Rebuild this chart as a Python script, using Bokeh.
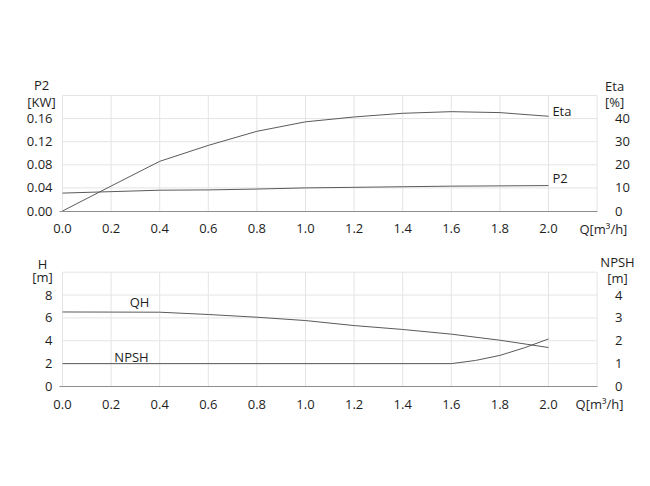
from bokeh.plotting import figure
from bokeh.models import Range1d, LinearAxis, FixedTicker, Label, PrintfTickFormatter
from bokeh.layouts import column
from bokeh.embed import file_html
from bokeh.resources import INLINE

# ---- data ----
q = [0.0, 0.2, 0.4, 0.6, 0.8, 1.0, 1.2, 1.4, 1.6, 1.8, 2.0]
eta = [0.0, 10.8, 21.5, 28.4, 34.5, 38.6, 40.7, 42.3, 43.0, 42.6, 41.0]
p2 = [0.031, 0.0335, 0.036, 0.0365, 0.038, 0.040, 0.041, 0.042, 0.043, 0.0435, 0.044]
qh = [6.52, 6.51, 6.50, 6.30, 6.06, 5.77, 5.33, 4.99, 4.58, 4.05, 3.41]
q_npsh = [0.0, 1.6, 1.7, 1.8, 1.9, 2.0]
npsh = [1.0, 1.0, 1.14, 1.36, 1.69, 2.08]

x_ticks = [0.0, 0.2, 0.4, 0.6, 0.8, 1.0, 1.2, 1.4, 1.6, 1.8, 2.0]
x_grid = [0.0, 0.2, 0.4, 0.6, 0.8, 1.0, 1.2, 1.4, 1.6, 1.8, 2.0, 2.2]
p2_ticks = [0.0, 0.04, 0.08, 0.12, 0.16]
p2_grid = [0.04, 0.08, 0.12, 0.16, 0.2]
eta_ticks = [0, 10, 20, 30, 40]
h_ticks = [0, 2, 4, 6, 8]
h_grid = [2, 4, 6, 8, 10]
npsh_ticks = [0, 1, 2, 3, 4]

Q_MAX, P2_MAX, ETA_MAX, H_MAX, NPSH_MAX = 2.2, 0.2, 50.0, 10.0, 5.0

# ---- page geometry (pixels) ----
W = 645
PAGE_X0, PAGE_X1 = 1, 1 + W
TOP_Y0, TOP_Y1 = 1, 248
BOT_Y0, BOT_Y1 = 248, 478
QX0, QPPU = 63.0, 243.0       # page x of Q=0, pixels per m3/h
P2_Y0, P2_PPU = 211.5, 577.5  # page y of P2=0, pixels per kW
H_Y0, H_PPU = 387.0, 11.43    # page y of H=0, pixels per m

FONT = "Open Sans"
FS = "13px"
TXT = "#1e1e1e"
CURVE = "#5a5a5a"
GRID_C = "#e4e4e4"
AXIS_C = "#8e8e8e"


def x_range():
    return Range1d((PAGE_X0 - QX0) / QPPU, (PAGE_X1 - QX0) / QPPU)


def y_range(y0, ppu, top, bot, k=1.0):
    return Range1d((y0 - bot) / ppu * k, (y0 - top) / ppu * k)


def style_axis(ax, ticks, fmt, standoff, line=True):
    ax.ticker = FixedTicker(ticks=ticks)
    ax.formatter = PrintfTickFormatter(format=fmt)
    ax.major_label_text_font = FONT
    ax.major_label_text_font_size = FS
    ax.major_label_text_color = TXT
    ax.major_tick_line_color = None
    ax.minor_tick_line_color = None
    ax.axis_line_color = AXIS_C if line else None
    ax.major_label_standoff = standoff


def lab(p, x, y, text, align="center", rng=None):
    kw = dict(x=x, y=y, text=text, text_font=FONT, text_font_size=FS,
              text_color=TXT, text_align=align, text_baseline="middle")
    if rng:
        kw["y_range_name"] = rng
    p.add_layout(Label(**kw))


def make_fig(top, bot, y0, ppu, yname, k, ymax, yticks, yfmt, rticks, ygrid):
    p = figure(width=W, height=bot - top, output_backend="svg", toolbar_location=None,
               x_range=x_range(), y_range=y_range(y0, ppu, top, bot),
               x_axis_location=None, y_axis_location=None, min_border=0)
    p.extra_y_ranges = {yname: y_range(y0, ppu, top, bot, k)}
    p.outline_line_color = None
    p.background_fill_color = "white"
    p.border_fill_color = "white"
    for g in p.grid:
        g.visible = False
    # grid lines limited to the chart area
    n = len(x_grid)
    p.segment(x0=x_grid, y0=[0] * n, x1=x_grid, y1=[ymax] * n,
              line_color=GRID_C, line_width=1)
    m = len(ygrid)
    p.segment(x0=[0] * m, y0=ygrid, x1=[Q_MAX] * m, y1=ygrid,
              line_color=GRID_C, line_width=1)
    # axes drawn at fixed locations inside the canvas
    xa = LinearAxis(fixed_location=0, bounds=(-0.012, Q_MAX))
    style_axis(xa, x_ticks, "%.1f", 7)
    p.add_layout(xa, "below")
    ya = LinearAxis(fixed_location=0, bounds=(0, ymax))
    style_axis(ya, yticks, yfmt, 4, line=False)
    p.add_layout(ya, "left")
    ra = LinearAxis(fixed_location=Q_MAX, y_range_name=yname, bounds=(0, ymax * k))
    style_axis(ra, rticks, "%d", 12, line=False)
    p.add_layout(ra, "right")
    return p


# ---- top chart: P2 / Eta ----
k_eta = ETA_MAX / P2_MAX
p1 = make_fig(TOP_Y0, TOP_Y1, P2_Y0, P2_PPU, "eta", k_eta, P2_MAX,
              p2_ticks, "%.2f", eta_ticks, p2_grid)
p1.line(q, eta, y_range_name="eta", line_color=CURVE, line_width=1)
p1.line(q, p2, line_color=CURVE, line_width=1)

lab(p1, -0.086, 0.219, "P2")
lab(p1, -0.086, 0.188, "[KW]")
lab(p1, 2.272, 0.2156, "Eta")
lab(p1, 2.272, 0.188, "[%]")
lab(p1, 2.016, 0.1723, "Eta", align="left")
lab(p1, 2.016, 0.058, "P2", align="left")
lab(p1, 2.226, -0.032, "Q[m³/h]")

# ---- bottom chart: QH / NPSH ----
k_npsh = NPSH_MAX / H_MAX
p2f = make_fig(BOT_Y0, BOT_Y1, H_Y0, H_PPU, "npsh", k_npsh, H_MAX,
               h_ticks, "%d", npsh_ticks, h_grid)
p2f.line(q, qh, line_color=CURVE, line_width=1)
p2f.line(q_npsh, npsh, y_range_name="npsh", line_color=CURVE, line_width=1)

lab(p2f, -0.082, 10.76, "H")
lab(p2f, -0.082, 9.54, "[m]")
lab(p2f, 2.284, 10.85, "NPSH")
lab(p2f, 2.284, 9.45, "[m]")
lab(p2f, 0.317, 7.35, "QH")
lab(p2f, 0.284, 2.62, "NPSH")
lab(p2f, 2.21, -1.57, "Q[m³/h]")

layout = column(p1, p2f)
open("out.html", "w").write(file_html(layout, INLINE))
